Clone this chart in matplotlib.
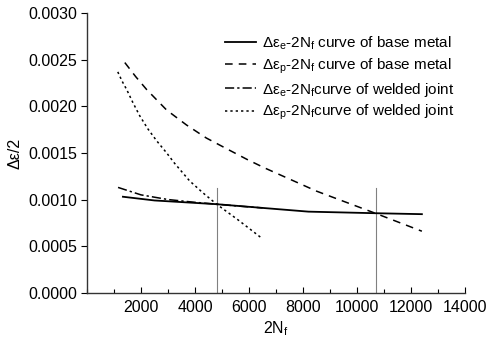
import matplotlib as mpl
mpl.use("Agg")
import matplotlib.pyplot as plt
from matplotlib.ticker import MultipleLocator

# data
be_x = [1330, 2500, 4800, 6500, 8200, 10700, 12400]
be_y = [0.00103, 0.00099, 0.00095, 0.00091, 0.00087, 0.000853, 0.000843]

bp_x = [1400, 1800, 2210, 2950, 3685, 4420, 5270, 5930, 6570, 8500, 10700, 12400]
bp_y = [0.00247, 0.00232, 0.00218, 0.00196, 0.00180, 0.00166, 0.00153, 0.00143, 0.00134, 0.00109, 0.00085, 0.00066]

we_x = [1150, 2000, 3000, 4000, 4800, 5600, 6500]
we_y = [0.00113, 0.00105, 0.00100, 0.00097, 0.00095, 0.00093, 0.00091]

wp_x = [1140, 1300, 1470, 1700, 1950, 2250, 2580, 2950, 3240, 3800, 4300, 4800, 5600, 6450]
wp_y = [0.00237, 0.00227, 0.00218, 0.00204, 0.00190, 0.00176, 0.00163, 0.00150, 0.00139, 0.00120, 0.00107, 0.00095, 0.00078, 0.00059]

vlines_x = [4800, 10700]
vline_top = 0.00112

labels = [
    r"Δε$_\mathregular{e}$-2N$_\mathregular{f}$ curve of base metal",
    r"Δε$_\mathregular{p}$-2N$_\mathregular{f}$ curve of base metal",
    r"Δε$_\mathregular{e}$-2N$_\mathregular{f}$curve of welded joint",
    r"Δε$_\mathregular{p}$-2N$_\mathregular{f}$curve of welded joint",
]


def main():
    plt.rcParams["font.family"] = ["Liberation Sans", "DejaVu Sans"]
    plt.rcParams["mathtext.default"] = "regular"
    plt.rcParams["font.size"] = 11.5
    plt.rcParams["xtick.direction"] = "in"
    plt.rcParams["ytick.direction"] = "out"
    plt.rcParams["axes.linewidth"] = 1.0
    plt.rcParams["axes.edgecolor"] = "#333333"

    fig = plt.figure(figsize=(4.86, 3.38), dpi=100)
    ax = fig.add_axes([0.179, 0.134, 0.778, 0.827])

    for x in vlines_x:
        ax.plot([x, x], [0, vline_top], color="#808080", lw=0.8)

    ax.plot(be_x, be_y, color="black", lw=1.3, ls="-", label=labels[0])
    ax.plot(bp_x, bp_y, color="black", lw=1.1, ls=(0, (5, 4)), label=labels[1])
    ax.plot(we_x, we_y, color="black", lw=1.1, ls=(0, (6, 2, 1.5, 2)), label=labels[2])
    ax.plot(wp_x, wp_y, color="black", lw=1.1, ls=(0, (1.5, 2)), label=labels[3])

    ax.set_xlim(0, 14000)
    ax.set_ylim(0, 0.003)
    ax.xaxis.set_minor_locator(MultipleLocator(1000))
    ax.yaxis.set_major_locator(MultipleLocator(0.0005))
    ax.set_xticks([2000, 4000, 6000, 8000, 10000, 12000, 14000])
    ax.yaxis.set_major_formatter(mpl.ticker.FormatStrFormatter("%.4f"))
    ax.tick_params(axis="x", which="major", length=4, width=0.8, pad=5)
    ax.tick_params(axis="x", which="minor", length=3, width=0.8)
    ax.tick_params(axis="y", which="major", length=4, width=0.8, pad=3)

    ax.spines["top"].set_visible(False)
    ax.spines["right"].set_visible(False)

    ax.set_xlabel(r"2N$_\mathregular{f}$", labelpad=3)
    ax.set_ylabel("Δε/2", labelpad=4)

    ax.legend(loc="upper left", bbox_to_anchor=(0.35, 0.945), frameon=False,
              fontsize=11, handlelength=2.0, handletextpad=0.4,
              labelspacing=0.3, borderaxespad=0)

    fig.savefig("out.png", dpi=100)
    plt.close(fig)


if __name__ == "__main__":
    main()
